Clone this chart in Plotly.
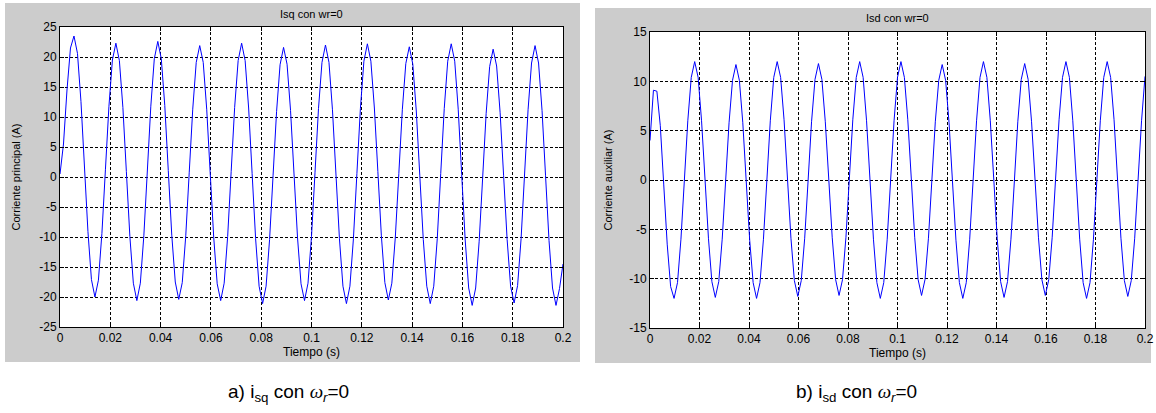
import numpy as np
import plotly.graph_objects as go

# ---------------- data ----------------
T_START, T_END, N_SAMPLES = 0.0, 0.2, 145          # uniform sampling of the simulation
time_s = np.linspace(T_START, T_END, N_SAMPLES)

isq_A = [
    0.5, 5.5, 14.5, 21.5, 23.5,
    20.6, 12.6, 1.8, -9.1, -17.1, -20.0,
    -17.2, -9.4, 1.2, 11.7, 19.5, 22.3,
    19.4, 11.6, 0.9, -9.9, -17.7, -20.6,
    -17.7, -9.8, 1.0, 11.8, 19.7, 22.6,
    19.7, 11.9, 1.1, -9.7, -17.5, -20.4,
    -17.6, -9.8, 0.8, 11.3, 19.1, 21.9,
    19.1, 11.3, 0.7, -10.0, -17.8, -20.6,
    -17.7, -9.9, 0.9, 11.6, 19.4, 22.3,
    19.4, 11.5, 0.6, -10.3, -18.2, -21.1,
    -18.2, -10.4, 0.3, 10.9, 18.7, 21.6,
    18.8, 11.1, 0.5, -10.1, -17.8, -20.6,
    -17.7, -9.9, 0.7, 11.4, 19.1, 22.0,
    19.1, 11.2, 0.5, -10.3, -18.2, -21.1,
    -18.2, -10.3, 0.6, 11.4, 19.3, 22.2,
    19.3, 11.5, 0.9, -9.8, -17.6, -20.5,
    -17.7, -10.0, 0.6, 11.2, 18.9, 21.7,
    18.8, 11.0, 0.3, -10.4, -18.2, -21.1,
    -18.2, -10.3, 0.6, 11.4, 19.3, 22.2,
    19.3, 11.3, 0.4, -10.5, -18.5, -21.4,
    -18.5, -10.7, -0.1, 10.6, 18.4, 21.3,
    18.5, 10.7, 0.2, -10.4, -18.2, -21.0,
    -18.1, -10.3, 0.5, 11.2, 19.0, 21.9,
    19.0, 11.1, 0.3, -10.6, -18.5, -21.4,
    -18.6, -14.5,
]

isd_A = [
    4.0, 9.1, 9.0, 5.5, -0.5, -6.5, -10.8, -12.0,
    -10.4, -6.0, 0.0, 6.0, 10.4, 12.0,
    10.4, 6.0, 0.1, -5.9, -10.3, -11.9,
    -10.3, -6.0, -0.1, 5.8, 10.1, 11.7,
    10.1, 5.8, -0.2, -6.1, -10.4, -12.0,
    -10.4, -6.0, 0.0, 6.0, 10.4, 12.0,
    10.4, 6.1, 0.1, -5.9, -10.2, -11.8,
    -10.2, -5.9, 0.0, 5.9, 10.2, 11.8,
    10.2, 5.9, 0.1, -5.8, -10.1, -11.7,
    -10.1, -5.8, 0.2, 6.1, 10.4, 12.0,
    10.4, 6.0, 0.0, -6.0, -10.4, -12.0,
    -10.4, -6.0, 0.0, 6.0, 10.4, 12.0,
    10.4, 6.1, 0.2, -5.8, -10.1, -11.7,
    -10.1, -5.9, 0.0, 5.9, 10.1, 11.7,
    10.1, 5.8, -0.2, -6.1, -10.4, -12.0,
    -10.4, -6.0, 0.0, 6.0, 10.4, 12.0,
    10.4, 6.0, 0.1, -5.9, -10.3, -11.9,
    -10.3, -6.0, -0.1, 5.9, 10.2, 11.8,
    10.2, 5.9, 0.1, -5.8, -10.1, -11.7,
    -10.1, -5.8, 0.2, 6.1, 10.4, 12.0,
    10.4, 6.0, 0.0, -6.0, -10.4, -12.0,
    -10.4, -6.0, 0.0, 6.0, 10.4, 12.0,
    10.4, 6.1, 0.1, -5.9, -10.2, -11.8,
    -10.2, -5.9, 0.1, 6.0, 10.5,
]

isq_yticks = [-25, -20, -15, -10, -5, 0, 5, 10, 15, 20, 25]
isq_ytext = ["-25", "-20", "-15", "-10", "-5", "0", "5", "10", "15", "20", "25"]
isd_yticks = [-15, -10, -5, 0, 5, 10, 15]
isd_ytext = ["-15", "-10", "-5", "0", "5", "10", "15"]

title_left = "Isq con wr=0"
title_right = "Isd con wr=0"
ylabel_left = "Corriente principal (A)"
ylabel_right = "Corriente auxiliar (A)"
xlabel = "Tiempo (s)"
caption_left = 'a) i<sub>sq</sub> con <span style="font-family:Liberation Serif"><i>ω</i></span><sub><i>r</i></sub>=0'
caption_right = 'b) i<sub>sd</sub> con <span style="font-family:Liberation Serif"><i>ω</i></span><sub><i>r</i></sub>=0'

# ---------------- figure ----------------
W, H = 1156, 413
FONT = "Liberation Sans, Arial, sans-serif"
GRAY = "#cccccc"

def px_x(p):
    return p / W

def px_y(p):
    return 1 - p / H

fig = go.Figure()
fig.add_trace(go.Scatter(x=time_s, y=isq_A, mode="lines",
                         line=dict(color="#0000ff", width=1), xaxis="x", yaxis="y"))
fig.add_trace(go.Scatter(x=time_s, y=isd_A, mode="lines",
                         line=dict(color="#0000ff", width=1), xaxis="x2", yaxis="y2"))

common_x = dict(range=[0, 0.2], tick0=0, dtick=0.02, showgrid=True, gridcolor="black",
                griddash="3px,2px", gridwidth=1, showline=True, linecolor="black", linewidth=1,
                mirror="ticks", ticks="inside", ticklen=4, tickcolor="black", zeroline=False,
                automargin=False,
                tickfont=dict(family=FONT, size=12, color="black"),
                title=dict(text=xlabel, font=dict(family=FONT, size=12, color="black"), standoff=2))
common_y = dict(showgrid=True, gridcolor="black", griddash="3px,2px", gridwidth=1,
                showline=True, linecolor="black", linewidth=1, mirror="ticks", ticks="inside",
                ticklen=4, tickcolor="black", zeroline=False, automargin=False,
                tickfont=dict(family=FONT, size=12, color="black"))

fig.update_layout(
    width=W, height=H, margin=dict(l=0, r=0, t=0, b=0, pad=0),
    paper_bgcolor="white", plot_bgcolor="white", showlegend=False,
    font=dict(family=FONT, color="black"),
    xaxis=dict(domain=[px_x(60), px_x(563)], anchor="y", **common_x),
    yaxis=dict(domain=[px_y(327), px_y(27)], anchor="x", range=[-25, 25],
               tickvals=isq_yticks, ticktext=isq_ytext,
               title=dict(text=ylabel_left, font=dict(family=FONT, size=11, color="black"), standoff=16),
               **common_y),
    xaxis2=dict(domain=[px_x(650), px_x(1145)], anchor="y2", **common_x),
    yaxis2=dict(domain=[px_y(328), px_y(32)], anchor="x2", range=[-15, 15],
                tickvals=isd_yticks, ticktext=isd_ytext,
                title=dict(text=ylabel_right, font=dict(family=FONT, size=11, color="black"), standoff=14),
                **common_y),
    shapes=[
        dict(type="rect", xref="paper", yref="paper", x0=px_x(5), x1=px_x(580),
             y0=px_y(362), y1=px_y(3), fillcolor=GRAY, line=dict(width=0), layer="below"),
        dict(type="rect", xref="paper", yref="paper", x0=px_x(595), x1=px_x(1151),
             y0=px_y(363), y1=px_y(8), fillcolor=GRAY, line=dict(width=0), layer="below"),
        dict(type="rect", xref="x domain", yref="y domain", x0=0, x1=1, y0=0, y1=1,
             fillcolor="white", line=dict(width=0), layer="below"),
        dict(type="rect", xref="x2 domain", yref="y2 domain", x0=0, x1=1, y0=0, y1=1,
             fillcolor="white", line=dict(width=0), layer="below"),
    ],
    annotations=[
        dict(text=title_left, xref="x domain", yref="paper", x=0.5, y=px_y(14),
             showarrow=False, xanchor="center", yanchor="middle",
             font=dict(family=FONT, size=11, color="black")),
        dict(text=title_right, xref="x2 domain", yref="paper", x=0.5, y=px_y(18),
             showarrow=False, xanchor="center", yanchor="middle",
             font=dict(family=FONT, size=11, color="black")),
        dict(text=caption_left, xref="paper", yref="paper", x=px_x(288), y=px_y(393),
             showarrow=False, xanchor="center", yanchor="middle",
             font=dict(family=FONT, size=19, color="black")),
        dict(text=caption_right, xref="paper", yref="paper", x=px_x(856), y=px_y(393),
             showarrow=False, xanchor="center", yanchor="middle",
             font=dict(family=FONT, size=19, color="black")),
    ],
)

fig.write_html(
    "out.html",
    config={"displayModeBar": False},
    post_script="document.body.style.margin='0';document.body.style.overflow='hidden';",
)
